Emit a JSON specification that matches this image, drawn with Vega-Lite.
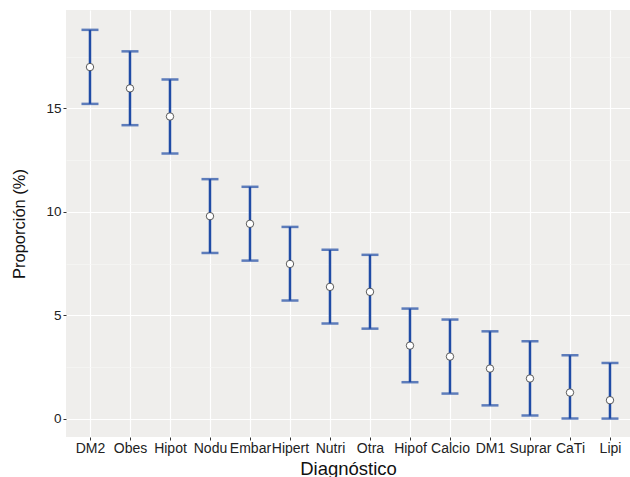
{
  "$schema": "https://vega.github.io/schema/vega-lite/v6.json",
  "autosize": "none",
  "width": 564,
  "height": 427,
  "padding": {"left": 66, "top": 10, "right": 0, "bottom": 40},
  "background": "white",
  "config": {
    "view": {"fill": "#EFEEEC", "stroke": null},
    "font": "Liberation Sans"
  },
  "data": {
    "values": [
      {"dx": "DM2", "p": 17.0, "lo": 15.22, "hi": 18.80},
      {"dx": "Obes", "p": 15.97, "lo": 14.19, "hi": 17.76},
      {"dx": "Hipot", "p": 14.61, "lo": 12.82, "hi": 16.40},
      {"dx": "Nodu", "p": 9.79, "lo": 8.01, "hi": 11.58},
      {"dx": "Embar", "p": 9.42, "lo": 7.64, "hi": 11.21},
      {"dx": "Hipert", "p": 7.48, "lo": 5.71, "hi": 9.27},
      {"dx": "Nutri", "p": 6.37, "lo": 4.60, "hi": 8.16},
      {"dx": "Otra", "p": 6.13, "lo": 4.35, "hi": 7.92},
      {"dx": "Hipof", "p": 3.53, "lo": 1.76, "hi": 5.32},
      {"dx": "Calcio", "p": 3.00, "lo": 1.21, "hi": 4.79},
      {"dx": "DM1", "p": 2.42, "lo": 0.64, "hi": 4.22},
      {"dx": "Suprar", "p": 1.94, "lo": 0.15, "hi": 3.74},
      {"dx": "CaTi", "p": 1.26, "lo": 0.0, "hi": 3.06},
      {"dx": "Lipi", "p": 0.89, "lo": 0.0, "hi": 2.69}
    ]
  },
  "encoding": {
    "x": {
      "field": "dx", "type": "nominal", "sort": null,
      "scale": {"type": "point", "padding": 0.55, "align": 0.545},
      "axis": {
        "title": "Diagnóstico", "titleFontSize": 18.5, "titleFontWeight": "normal", "titleColor": "#111",
        "titlePadding": 4,
        "labelAngle": 0, "labelFontSize": 14, "labelColor": "#222", "labelPadding": 1,
        "domain": false, "tickColor": "#333", "tickSize": 3,
        "grid": true, "gridColor": "white", "gridWidth": 1.2
      }
    }
  },
  "layer": [
    {
      "mark": {"type": "rule", "color": "#1F4BA5", "strokeWidth": 2.5},
      "encoding": {
        "y": {
          "field": "lo", "type": "quantitative",
          "scale": {"domain": [-0.89, 19.76], "nice": false, "zero": false},
          "axis": {
            "title": "Proporción (%)", "titleFontSize": 16.5, "titleFontWeight": "normal", "titleColor": "#111",
            "titlePadding": 18,
            "values": [0, 2.5, 5, 7.5, 10, 12.5, 15, 17.5],
            "labelExpr": "datum.value % 5 === 0 ? datum.label : ''",
            "labelFontSize": 13.5, "labelColor": "#222", "labelPadding": 2,
            "domain": false, "tickColor": "#333", "tickSize": 3,
            "tickOpacity": {"condition": {"test": "datum.value % 5 === 0", "value": 1}, "value": 0},
            "grid": true,
            "gridColor": {"condition": {"test": "datum.value % 5 === 0", "value": "white"}, "value": "#F6F6F5"},
            "gridWidth": {"condition": {"test": "datum.value % 5 === 0", "value": 1.2}, "value": 0.7}
          }
        },
        "y2": {"field": "hi"}
      }
    },
    {
      "mark": {"type": "tick", "color": "#1F4BA5", "thickness": 2.5, "size": 17, "orient": "horizontal"},
      "encoding": {"y": {"field": "lo", "type": "quantitative"}}
    },
    {
      "mark": {"type": "tick", "color": "#1F4BA5", "thickness": 2.5, "size": 17, "orient": "horizontal"},
      "encoding": {"y": {"field": "hi", "type": "quantitative"}}
    },
    {
      "mark": {"type": "point", "filled": true, "fill": "white", "stroke": "#333", "strokeWidth": 0.8, "size": 55, "opacity": 1},
      "encoding": {"y": {"field": "p", "type": "quantitative"}}
    }
  ]
}
